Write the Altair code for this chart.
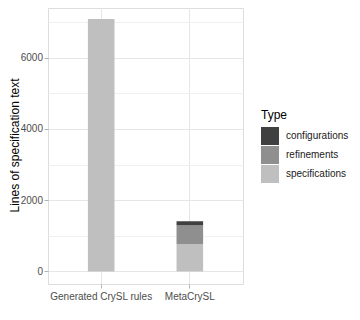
import altair as alt
import pandas as pd

categories = ["Generated CrySL rules", "MetaCrySL", "MetaCrySL", "MetaCrySL"]
types = ["specifications", "specifications", "refinements", "configurations"]
values = [7085, 768, 525, 115]
stack_order = [0, 0, 1, 2]

type_domain = ["configurations", "refinements", "specifications"]
type_colors = ["#404040", "#8f8f8f", "#bfbfbf"]
y_ticks = [0, 1000, 2000, 3000, 4000, 5000, 6000, 7000]

df = pd.DataFrame({"Source": categories, "Type": types, "Lines": values, "ord": stack_order})

FONT = "Liberation Sans"

chart = alt.Chart(df).mark_bar().encode(
    x=alt.X(
        "Source:N",
        title=None,
        sort=["Generated CrySL rules", "MetaCrySL"],
        scale=alt.Scale(paddingInner=0.7, paddingOuter=0.45),
        axis=alt.Axis(
            labelAngle=0,
            labelFontSize=10,
            labelColor="#4d4d4d",
            labelFont=FONT,
            labelPadding=3,
            tickColor="#b3b3b3",
            tickSize=4,
            domain=False,
            grid=True,
            gridColor="#e6e6e6",
            gridWidth=1,
            bandPosition=0.5,
        ),
    ),
    y=alt.Y(
        "Lines:Q",
        title="Lines of specification text",
        stack="zero",
        scale=alt.Scale(domain=[-353, 7393], nice=False, zero=False),
        axis=alt.Axis(
            values=y_ticks,
            labelExpr="datum.value % 2000 === 0 ? datum.label : ''",
            labelFontSize=10,
            labelColor="#4d4d4d",
            labelFont=FONT,
            labelPadding=1.5,
            format="d",
            tickColor={"condition": {"test": "datum.value % 2000 === 0", "value": "#b3b3b3"}, "value": "transparent"},
            tickSize=4,
            domain=False,
            grid=True,
            gridColor={"condition": {"test": "datum.value % 2000 === 0", "value": "#e6e6e6"}, "value": "#f0f0f0"},
            gridWidth=1,
            titleFont=FONT,
            titleFontSize=12,
            titleFontWeight="normal",
            titleColor="#000000",
            titleX=-34,
            titleY=137,
            titleAngle=270,
            titleAlign="center",
            titleBaseline="middle",
        ),
    ),
    color=alt.Color(
        "Type:N",
        scale=alt.Scale(domain=type_domain, range=type_colors),
        legend=alt.Legend(
            title="Type",
            orient="none",
            legendX=213,
            legendY=102,
            titleFont=FONT,
            titleFontSize=12,
            titleFontWeight="normal",
            titleColor="#000000",
            titlePadding=5,
            labelFont=FONT,
            labelFontSize=10,
            labelColor="#1a1a1a",
            labelOffset=7,
            symbolType="square",
            symbolSize=324,
            symbolStrokeWidth=0,
            symbolOpacity=1,
            rowPadding=1,
            padding=0,
        ),
    ),
    order=alt.Order("ord:Q"),
).properties(
    width=195,
    height=276,
    autosize=alt.AutoSizeParams(type="none"),
    padding={"left": 40, "top": 0, "right": 109, "bottom": 28},
).configure_view(
    stroke="#b3b3b3",
    strokeWidth=1,
).configure(
    background="white",
)

chart.save("out.html", embed_options={"renderer": "svg", "actions": False})
